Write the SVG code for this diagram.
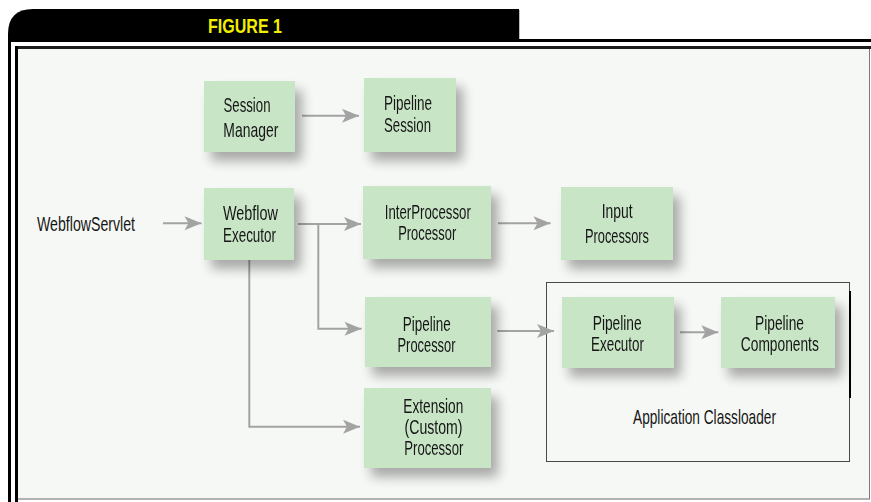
<svg xmlns="http://www.w3.org/2000/svg" width="871" height="502" viewBox="0 0 871 502">
  <style>
    .node rect { fill: #c8e5c6; }
    .node text, .label { font-family: "Liberation Sans", Arial, sans-serif; font-size: 21px; fill: #161616; }
    .conn { fill: none; stroke: #a3a3a3; stroke-width: 2; }
    .title { font-family: "Liberation Sans", Arial, sans-serif; font-size: 21px; font-weight: bold; fill: #f2ee00; }
  </style>
  <defs>
    <marker id="arrow" markerUnits="userSpaceOnUse" markerWidth="20" markerHeight="18" viewBox="-18 -9 20 18" refX="0" refY="0" orient="auto">
      <path d="M-17,-7 L0,0 L-17,7 L-13,0 Z" fill="#a3a3a3"/>
    </marker>
    <filter id="shadow" x="-30%" y="-30%" width="170%" height="180%">
      <feGaussianBlur in="SourceAlpha" stdDeviation="6"/>
      <feOffset dx="7" dy="9" result="b"/>
      <feComponentTransfer><feFuncA type="linear" slope="0.32"/></feComponentTransfer>
      <feMerge><feMergeNode/><feMergeNode in="SourceGraphic"/></feMerge>
    </filter>
  </defs>

  <!-- page frame -->
  <rect x="0" y="0" width="871" height="502" fill="#ffffff"/>
  <path d="M8,40 L8,34 Q8,9 33,9 L519,9 L519,40 Z" fill="#000000"/>
  <line x1="519.5" y1="10" x2="519.5" y2="39" stroke="#bdbdbd" stroke-width="1"/>
  <rect x="8" y="39" width="863" height="3" fill="#000000"/>
  <rect x="8" y="39" width="3" height="463" fill="#000000"/>
  <rect x="15" y="46" width="856" height="3" fill="#1c1c1c"/>
  <rect x="15" y="46" width="3" height="456" fill="#000000"/>
  <rect x="18" y="49" width="852" height="450" fill="#f6f8f5"/>
  <line x1="18" y1="499" x2="870" y2="499" stroke="#9a9a9a" stroke-width="1.5"/>
  <line x1="869.5" y1="49" x2="869.5" y2="499" stroke="#7a7a7a" stroke-width="1"/>
  <text class="title" x="245" y="32.7" text-anchor="middle" textLength="74" lengthAdjust="spacingAndGlyphs">FIGURE 1</text>

  <!-- application classloader boundary -->
  <g id="classloader">
    <rect x="546.5" y="282.5" width="303" height="179" fill="none" stroke="#4a4a4a" stroke-width="1"/>
    <line x1="850" y1="291" x2="850" y2="398" stroke="#000000" stroke-width="2"/>
    <text class="label" x="704.5" y="424.3" text-anchor="middle" textLength="143" lengthAdjust="spacingAndGlyphs">Application Classloader</text>
  </g>

  <g id="webflow-servlet">
    <text class="label" x="37" y="230.7" textLength="98" lengthAdjust="spacingAndGlyphs">WebflowServlet</text>
  </g>

  <!-- connectors -->
  <g id="connectors">
    <line class="conn" x1="302" y1="115.7" x2="359" y2="115.7" marker-end="url(#arrow)"/>
    <line class="conn" x1="163" y1="223.3" x2="201.5" y2="223.3" marker-end="url(#arrow)"/>
    <line class="conn" x1="298" y1="224" x2="361" y2="224" marker-end="url(#arrow)"/>
    <polyline class="conn" points="318.3,224 318.3,328.7 361.5,328.7" marker-end="url(#arrow)"/>
    <polyline class="conn" points="249.3,260 249.3,426.7 360,426.7" marker-end="url(#arrow)"/>
    <line class="conn" x1="498" y1="223.3" x2="550.5" y2="223.3" marker-end="url(#arrow)"/>
    <line class="conn" x1="497.3" y1="331" x2="554" y2="331" marker-end="url(#arrow)"/>
    <line class="conn" x1="680" y1="332.3" x2="718.3" y2="332.3" marker-end="url(#arrow)"/>
  </g>

  <!-- nodes -->
  <g id="session-manager" class="node" filter="url(#shadow)">
    <rect x="204" y="81" width="91" height="71"/>
    <text x="247" y="112.3" text-anchor="middle" textLength="47" lengthAdjust="spacingAndGlyphs">Session</text>
    <text x="250.8" y="137.3" text-anchor="middle" textLength="55" lengthAdjust="spacingAndGlyphs">Manager</text>
  </g>

  <g id="pipeline-session" class="node" filter="url(#shadow)">
    <rect x="364" y="78" width="92" height="74"/>
    <text x="408" y="110" text-anchor="middle" textLength="48" lengthAdjust="spacingAndGlyphs">Pipeline</text>
    <text x="407.5" y="132" text-anchor="middle" textLength="47" lengthAdjust="spacingAndGlyphs">Session</text>
  </g>

  <g id="webflow-executor" class="node" filter="url(#shadow)">
    <rect x="204" y="188" width="90" height="72"/>
    <text x="250.5" y="220" text-anchor="middle" textLength="55" lengthAdjust="spacingAndGlyphs">Webflow</text>
    <text x="249.5" y="241.7" text-anchor="middle" textLength="53" lengthAdjust="spacingAndGlyphs">Executor</text>
  </g>

  <g id="interprocessor-processor" class="node" filter="url(#shadow)">
    <rect x="363" y="186" width="128" height="73"/>
    <text x="427.8" y="218.7" text-anchor="middle" textLength="86" lengthAdjust="spacingAndGlyphs">InterProcessor</text>
    <text x="427.2" y="240" text-anchor="middle" textLength="58" lengthAdjust="spacingAndGlyphs">Processor</text>
  </g>

  <g id="input-processors" class="node" filter="url(#shadow)">
    <rect x="561" y="187" width="112" height="73"/>
    <text x="617.2" y="218" text-anchor="middle" textLength="31" lengthAdjust="spacingAndGlyphs">Input</text>
    <text x="617" y="243" text-anchor="middle" textLength="64" lengthAdjust="spacingAndGlyphs">Processors</text>
  </g>

  <g id="pipeline-processor" class="node" filter="url(#shadow)">
    <rect x="365" y="297" width="126" height="70"/>
    <text x="426.7" y="330.7" text-anchor="middle" textLength="48" lengthAdjust="spacingAndGlyphs">Pipeline</text>
    <text x="426.5" y="352.3" text-anchor="middle" textLength="58" lengthAdjust="spacingAndGlyphs">Processor</text>
  </g>

  <g id="extension-processor" class="node" filter="url(#shadow)">
    <rect x="364" y="388" width="127" height="80"/>
    <text x="433.3" y="412.7" text-anchor="middle" textLength="60" lengthAdjust="spacingAndGlyphs">Extension</text>
    <text x="433.5" y="434" text-anchor="middle" textLength="58" lengthAdjust="spacingAndGlyphs">(Custom)</text>
    <text x="433.8" y="455" text-anchor="middle" textLength="59" lengthAdjust="spacingAndGlyphs">Processor</text>
  </g>

  <g id="pipeline-executor" class="node" filter="url(#shadow)">
    <rect x="562" y="297" width="112" height="71"/>
    <text x="617.2" y="330" text-anchor="middle" textLength="49" lengthAdjust="spacingAndGlyphs">Pipeline</text>
    <text x="617.5" y="351" text-anchor="middle" textLength="53" lengthAdjust="spacingAndGlyphs">Executor</text>
  </g>

  <g id="pipeline-components" class="node" filter="url(#shadow)">
    <rect x="721" y="297" width="114" height="71"/>
    <text x="779.5" y="330" text-anchor="middle" textLength="49" lengthAdjust="spacingAndGlyphs">Pipeline</text>
    <text x="779.8" y="351" text-anchor="middle" textLength="78" lengthAdjust="spacingAndGlyphs">Components</text>
  </g>
</svg>
